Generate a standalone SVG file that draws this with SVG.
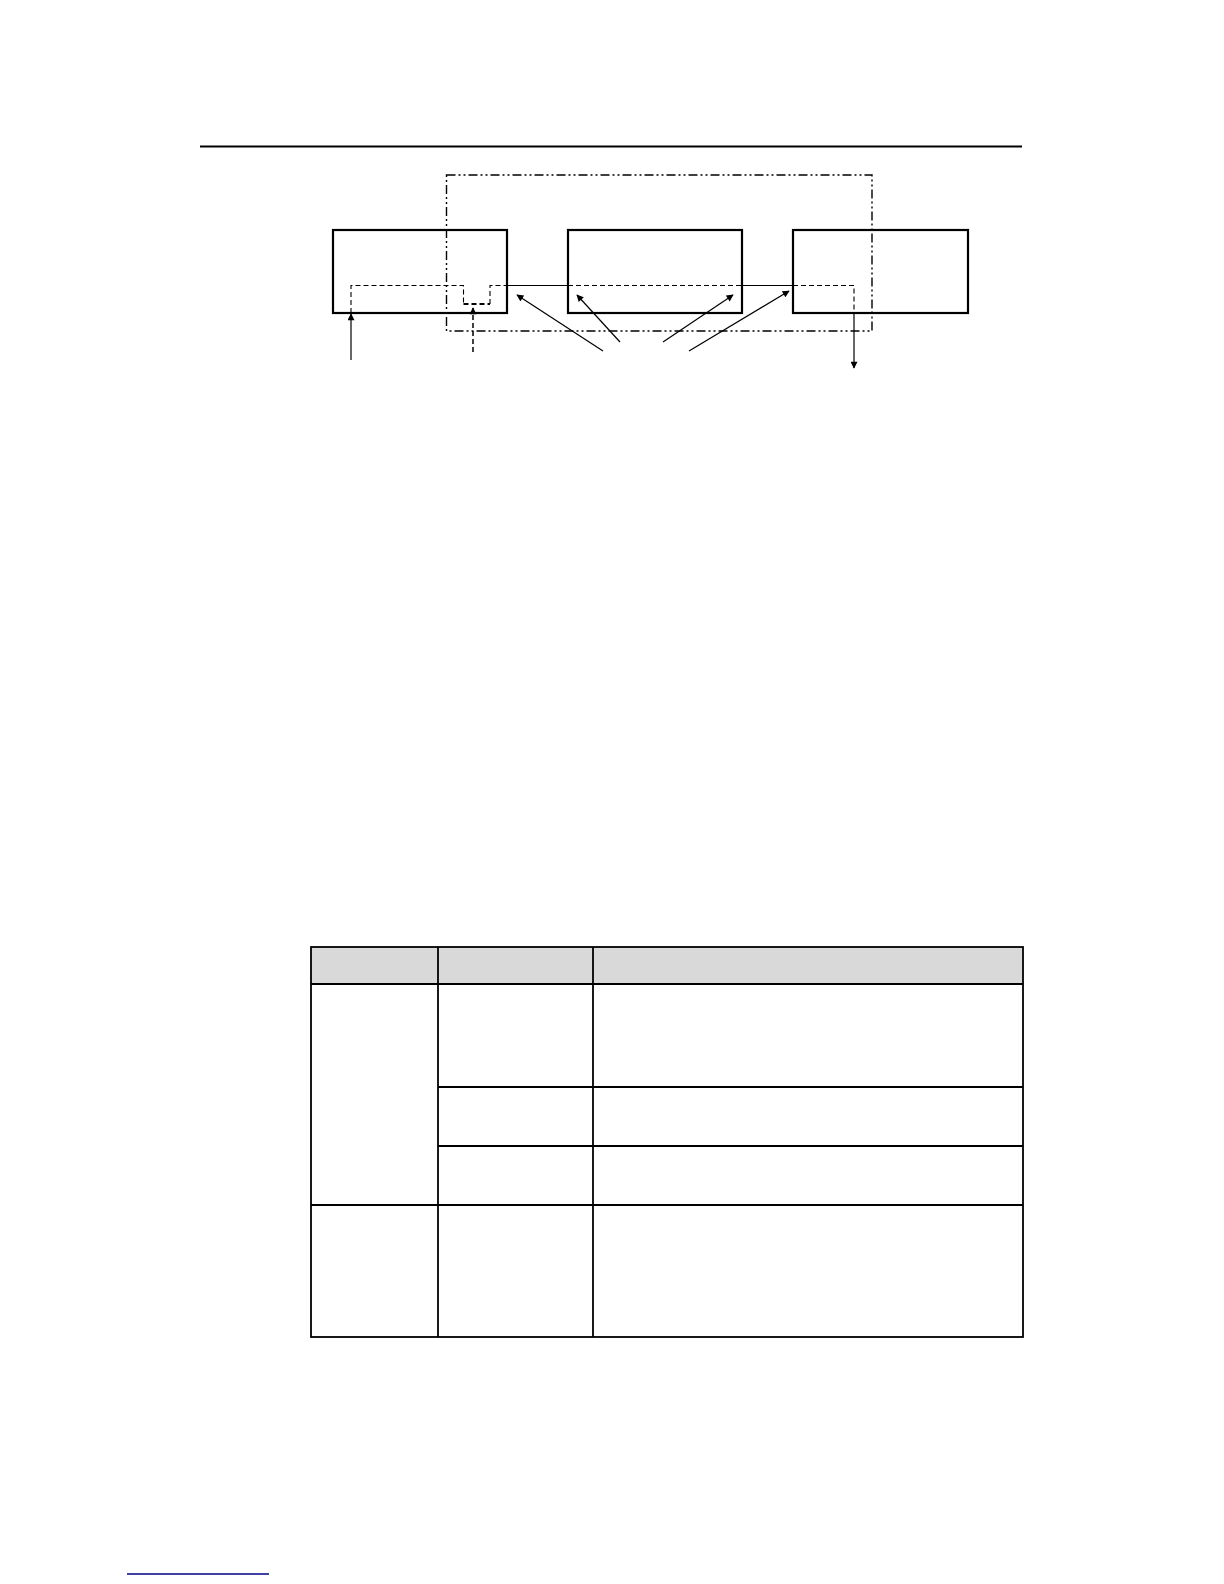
<svg xmlns="http://www.w3.org/2000/svg" width="1224" height="1584" viewBox="0 0 1224 1584">
<defs>
<style>
.box{fill:none;stroke:#000;stroke-width:2.2}
.dd{fill:none;stroke:#000;stroke-width:1.4;stroke-dasharray:9 3 2 3 2 3}
.dash{fill:none;stroke:#000;stroke-width:1.1;stroke-dasharray:5 3}
.solid{fill:none;stroke:#000;stroke-width:1.2}
.grid{stroke:#000;stroke-width:1.8;fill:none}
</style>
<marker id="ah" viewBox="0 0 10 10" refX="9" refY="5" markerWidth="9" markerHeight="7" markerUnits="userSpaceOnUse" orient="auto">
<path d="M0,0 L10,5 L0,10 z" fill="#000"/>
</marker>
</defs>
<rect width="1224" height="1584" fill="#fff"/>
<line x1="200" y1="146.5" x2="1022" y2="146.5" stroke="#000" stroke-width="2"/>
<g id="region">
<rect class="dd" x="446.5" y="175" width="425.5" height="156"/>
</g>
<g id="node1"><rect class="box" x="333" y="230" width="174" height="83"/></g>
<g id="node2"><rect class="box" x="568" y="230" width="174" height="83"/></g>
<g id="node3"><rect class="box" x="793" y="230" width="175" height="83"/></g>
<g id="connectors">
<path class="dash" d="M351,313 V285.5 H463.5 V304"/>
<path d="M463.5,304 H490" fill="none" stroke="#000" stroke-width="2" stroke-dasharray="5 3"/>
<path class="dash" d="M490,304 V285.5 H507"/>
<line class="solid" x1="507" y1="285.5" x2="568" y2="285.5"/>
<line class="dash" x1="568" y1="285.5" x2="742" y2="285.5"/>
<line class="solid" x1="742" y1="285.5" x2="793" y2="285.5"/>
<path class="dash" d="M793,285.5 H854 V313"/>
<line class="solid" x1="854" y1="313" x2="854" y2="368" marker-end="url(#ah)"/>
<line class="solid" x1="351" y1="360" x2="351" y2="314" marker-end="url(#ah)"/>
<line x1="473" y1="352" x2="473" y2="308" fill="none" stroke="#000" stroke-width="1.5" stroke-dasharray="5 3" marker-end="url(#ah)"/>
<line class="solid" x1="603" y1="351" x2="517" y2="295" marker-end="url(#ah)"/>
<line class="solid" x1="620" y1="342" x2="577" y2="295" marker-end="url(#ah)"/>
<line class="solid" x1="663" y1="342" x2="733" y2="295" marker-end="url(#ah)"/>
<line class="solid" x1="689" y1="351" x2="789" y2="291" marker-end="url(#ah)"/>
</g>
<g id="table">
<rect x="311" y="947" width="712" height="37" fill="#d9d9d9"/>
<rect class="grid" x="311" y="947" width="712" height="390"/>
<line class="grid" x1="311" y1="984" x2="1023" y2="984"/>
<line class="grid" x1="438" y1="947" x2="438" y2="1337"/>
<line class="grid" x1="593" y1="947" x2="593" y2="1337"/>
<line class="grid" x1="438" y1="1087" x2="1023" y2="1087"/>
<line class="grid" x1="438" y1="1146" x2="1023" y2="1146"/>
<line class="grid" x1="311" y1="1205" x2="1023" y2="1205"/>
</g>
<line x1="127" y1="1574" x2="269" y2="1574" stroke="#00008b" stroke-width="1.5"/>
</svg>
